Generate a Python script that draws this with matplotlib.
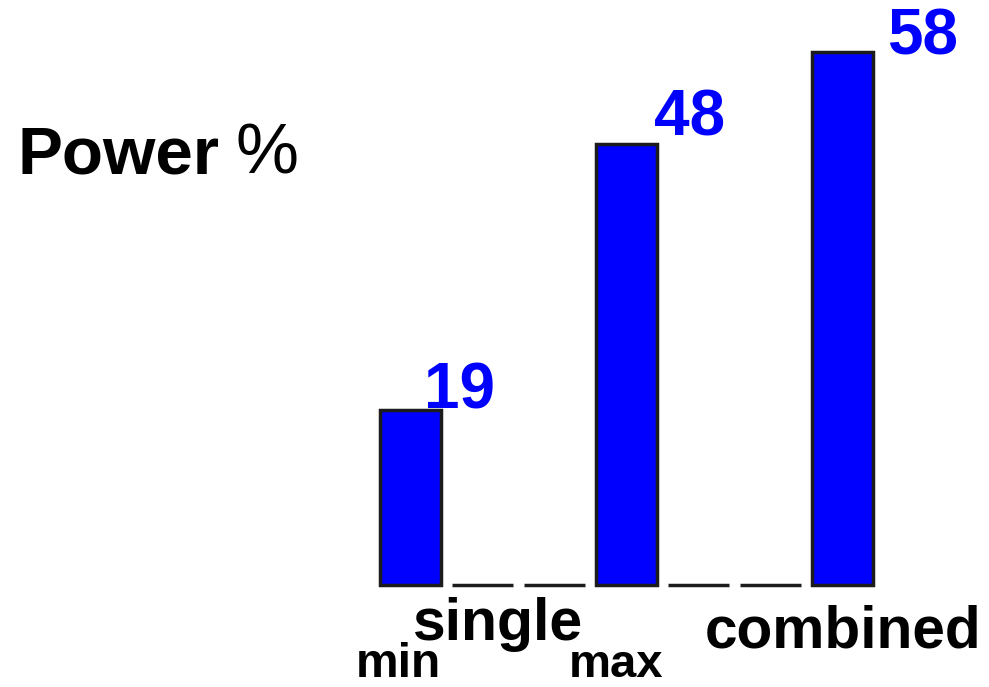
import matplotlib.pyplot as plt

plt.rcParams['font.family'] = ['Liberation Sans', 'DejaVu Sans']

# data
slots = [0, 1, 2, 3, 4, 5, 6]
power = [19, 0, 0, 48, 0, 0, 58]
value_labels = ['19', '48', '58']
labelled = [0, 3, 6]

W, H = 989, 687
fig = plt.figure(figsize=(W / 100, H / 100), dpi=100)
ax = fig.add_axes([0, 0, 1, 1])

# pixel mapping: slot 0 centre at x=410.5px, 72px per slot; baseline at y=585px, 9.19px per unit
ax.set_xlim(-410.5 / 72, (W - 410.5) / 72)
ax.set_ylim(-(H - 585) / 9.19, 585 / 9.19)
ax.axis('off')

ax.bar(slots, power, width=0.84, color='#0000ff', edgecolor='#1c1c1c', linewidth=2.5)

# value labels next to bar tops (offsets in pixels -> points)
offsets = [(-17, 2), (-3, 8), (14, -3)]
for lab, i, (dx, dy) in zip(value_labels, labelled, offsets):
    ax.annotate(lab, xy=(slots[i] + 0.42, power[i]), xytext=(dx * 0.72, dy * 0.72),
                textcoords='offset points', ha='left', va='baseline',
                fontsize=46, fontweight='bold', color='#0000ff')

def ftext(x, y, s, **kw):
    fig.text(x / W, 1 - y / H, s, va='baseline', **kw)

ftext(17, 173, 'Power', fontsize=48.5, fontweight='bold')
ftext(235, 173, '%', fontsize=51)
ftext(498, 640, 'single', fontsize=42.5, fontweight='bold', ha='center')
ftext(843, 648, 'combined', fontsize=42.2, fontweight='bold', ha='center')
ftext(398, 677, 'min', fontsize=34.5, fontweight='bold', ha='center')
ftext(616, 677, 'max', fontsize=34, fontweight='bold', ha='center')

fig.savefig('out.png', dpi=100)
